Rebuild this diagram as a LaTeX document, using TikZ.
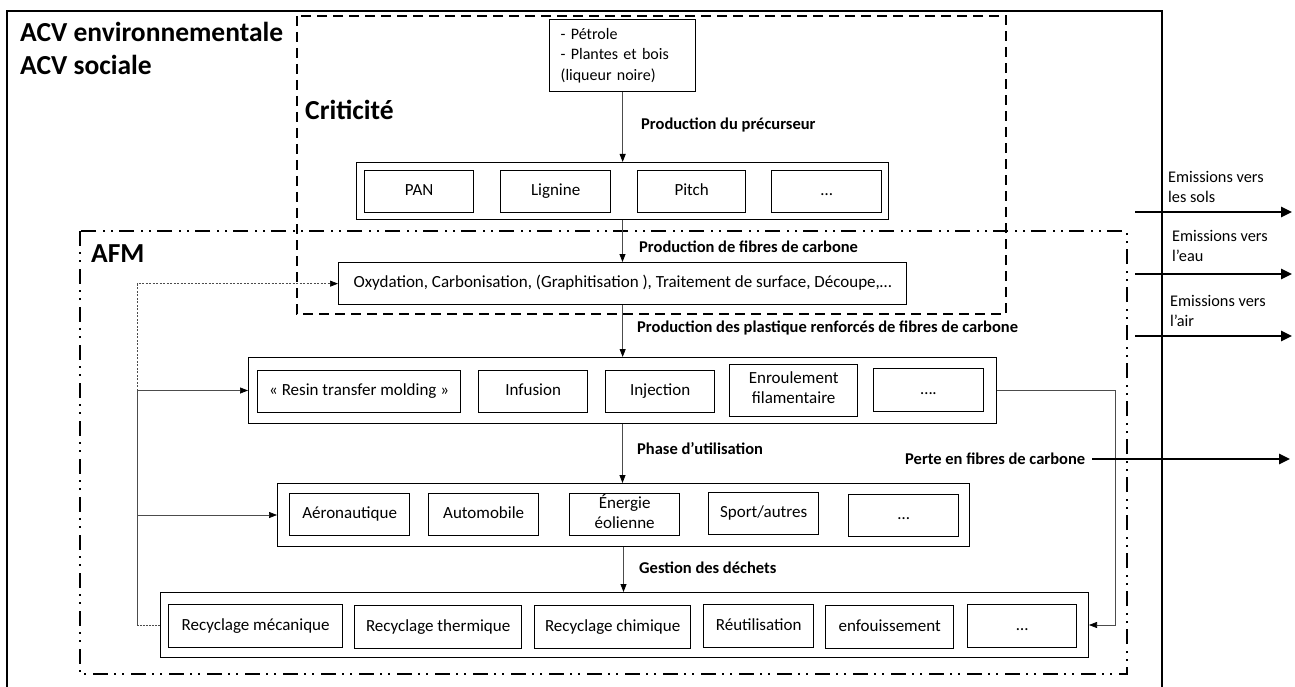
\documentclass[tikz,border=0pt]{standalone}
\usepackage{fontspec}
\setmainfont{Carlito}
\usetikzlibrary{arrows.meta}

\tikzset{
  grp/.style={draw, line width=1pt, inner sep=0pt, anchor=north west},
  item/.style={draw, line width=1.3pt, inner sep=0pt, anchor=north west, align=center, font=\fontsize{17}{20.5}\selectfont,
    execute at begin node=\strut, execute at end node=\strut},
  lbl/.style={anchor=west, inner sep=0pt, font=\bfseries\fontsize{16.5}{19}\selectfont},
  txt/.style={anchor=west, inner sep=0pt, align=left, font=\fontsize{16.3}{20.5}\selectfont},
  title/.style={anchor=base west, inner sep=0pt, font=\bfseries\fontsize{27.5}{33}\selectfont},
  tip/.style={-{Triangle[length=8pt,width=6pt,color=black]}},
  flow/.style={draw=black!70, line width=0.8pt, tip},
  feed/.style={draw=black!70, line width=0.7pt},
  emis/.style={line width=2.6pt, -{Triangle[length=11pt,width=10pt]}},
}

\begin{document}
\begin{tikzpicture}[x=1pt,y=1pt,yscale=-1,xscale=1]
\useasboundingbox (0,0) rectangle (1295,687);

%Shape: Rectangle (ACV, open at the bottom)
\draw[line width=2.2pt] (7,687) -- (7,11) -- (1162,11) -- (1162,687);
%Shape: Rectangle (Criticite)
\draw[line width=2pt, dash pattern=on 10pt off 6pt] (297,16) rectangle (1006,314);
%Shape: Rectangle (AFM)
\draw[line width=2pt, dash pattern=on 15pt off 6pt on 2pt off 6pt on 2pt off 7pt] (80,231) rectangle (1127,674);

% Text Node
\node[title] (tacv) at (20,42) {ACV environnementale};
% Text Node
\node[title] (tsoc) at (20,75) {ACV sociale};
% Text Node
\node[title] (tcrit) at (305,120) {Criticité};
% Text Node
\node[title] (tafm) at (91,262) {AFM};

%Shape: Rectangle (source)
\node[item, align=left, font=\fontsize{16}{20.5}\selectfont, minimum width=146, minimum height=72, inner xsep=11pt, text width=124pt] (src) at (549,19) {- Pétrole\\- Plantes et bois\\(liqueur noire)};

%Shape: Rectangle (precurseurs)
\node[grp, minimum width=532, minimum height=57] (prec) at (356,162) {};
\node[item, minimum width=109, minimum height=42] (pan) at (364,170) {PAN};
\node[item, minimum width=110, minimum height=42] (lignine) at (500,170) {Lignine};
\node[item, minimum width=108, minimum height=42] (pitch) at (637,170) {Pitch};
\node[item, minimum width=110, minimum height=42] (precmore) at (771,170) {…};

%Shape: Rectangle (fibres)
\node[item, minimum width=568, minimum height=42] (oxy) at (338,262) {Oxydation, Carbonisation, (Graphitisation ), Traitement de surface, Découpe,…};

%Shape: Rectangle (mise en forme)
\node[grp, minimum width=748, minimum height=66] (rtm) at (248,357) {};
\node[item, minimum width=203, minimum height=42] (rtmres) at (257,370) {« Resin transfer molding »};
\node[item, minimum width=109, minimum height=42] (infusion) at (478,370) {Infusion};
\node[item, minimum width=109, minimum height=42] (injection) at (605,370) {Injection};
\node[item, minimum width=128, minimum height=52] (enroul) at (729,364) {Enroulement\\filamentaire};
\node[item, minimum width=110, minimum height=43] (rtmmore) at (873,368) {….};

%Shape: Rectangle (utilisation)
\node[grp, minimum width=692, minimum height=63] (app) at (277,483) {};
\node[item, minimum width=120, minimum height=42] (aero) at (289,493) {Aéronautique};
\node[item, minimum width=110, minimum height=42] (auto) at (428,493) {Automobile};
\node[item, minimum width=110, minimum height=42] (eol) at (569,493) {Énergie\\éolienne};
\node[item, minimum width=110, minimum height=42] (sport) at (708,492) {Sport/autres};
\node[item, minimum width=110, minimum height=42] (appmore) at (848,494) {…};

%Shape: Rectangle (dechets)
\node[grp, minimum width=928, minimum height=65] (rec) at (160,592) {};
\node[item, minimum width=174, minimum height=43] (rmeca) at (168,604) {Recyclage mécanique};
\node[item, minimum width=167, minimum height=43] (rtherm) at (354,605) {Recyclage thermique};
\node[item, minimum width=156, minimum height=43] (rchim) at (534,605) {Recyclage chimique};
\node[item, minimum width=110, minimum height=43] (reutil) at (703,604) {Réutilisation};
\node[item, minimum width=128, minimum height=43] (enfouis) at (825,605) {enfouissement};
\node[item, minimum width=109, minimum height=43] (recmore) at (967,604) {…};

%Straight Lines (chaine)
\draw[flow] (src.south) -- (src.south |- prec.north);
\draw[flow] (prec.south) -- (prec.south |- oxy.north);
\draw[flow] (oxy.south) -- (oxy.south |- rtm.north);
\draw[flow] (rtm.south) -- (rtm.south |- app.north);
\draw[flow] (app.south) -- (app.south |- rec.north);

% Text Node
\node[lbl] (lprec) at (641,125) {Production du précurseur};
% Text Node
\node[lbl] (lfib) at (639,247) {Production de fibres de carbone};
% Text Node
\node[lbl] (lprf) at (637,328) {Production des plastique renforcés de fibres de carbone};
% Text Node
\node[lbl] (lusage) at (637,449) {Phase d’utilisation};
% Text Node
\node[lbl] (ldech) at (639,568) {Gestion des déchets};

%Straight Lines (retour)
\coordinate (fbx) at (137,0);
\draw[feed, dash pattern=on 2pt off 1pt] (rec.west) -- (rec.west -| fbx);
\draw[feed] (rec.west -| fbx) -- (rtm.west -| fbx);
\draw[feed, tip] (app.west -| fbx) -- (app.west);
\draw[feed, tip] (rtm.west -| fbx) -- (rtm.west);
\draw[feed, tip, dash pattern=on 2pt off 1.5pt] (rtm.west -| fbx) -- (oxy.west -| fbx) -- (oxy.west);

%Straight Lines (pertes de production)
\coordinate (lossx) at (1115,0);
\draw[feed, tip] (rtm.east) -- (rtm.east -| lossx) |- (rec.east);

% Text Node
\node[lbl] (lperte) at (905,459) {Perte en fibres de carbone};
\coordinate (perte) at (1290,459);
\draw[emis] ([xshift=7pt]lperte.east) -- (perte);

% Text Node
\node[txt] (lsols) at (1168,187) {Emissions vers\\les sols};
% Text Node
\node[txt] (leau) at (1172,246) {Emissions vers\\l’eau};
% Text Node
\node[txt] (lair) at (1170,311) {Emissions vers\\l’air};
\coordinate (sols_a) at (1135,212);
\coordinate (sols_b) at (1292,212);
\coordinate (eau_a) at (1135,274);
\coordinate (eau_b) at (1292,274);
\coordinate (air_a) at (1135,336);
\coordinate (air_b) at (1292,336);
\draw[emis] (sols_a) -- (sols_b);
\draw[emis] (eau_a) -- (eau_b);
\draw[emis] (air_a) -- (air_b);

\end{tikzpicture}
\end{document}
